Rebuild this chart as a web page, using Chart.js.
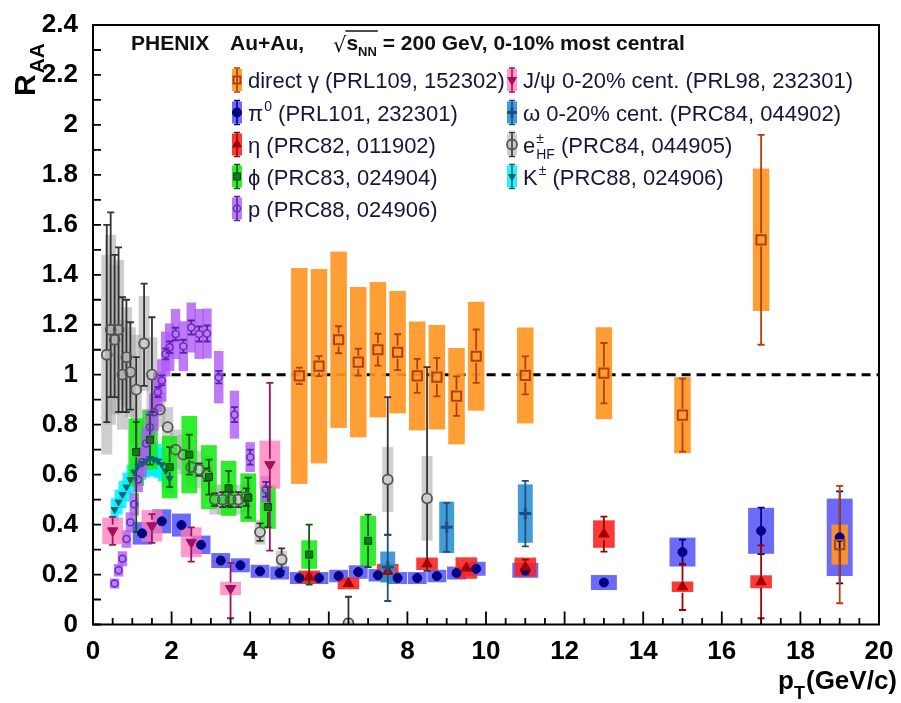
<!DOCTYPE html>
<html>
<head>
<meta charset="utf-8">
<script src="https://cdn.jsdelivr.net/npm/chart.js@4.4.1/dist/chart.umd.min.js"></script>
<style>
  html, body { margin: 0; padding: 0; background: #fff; }
  canvas { display: block; }
</style>
</head>
<body>
<canvas id="raa" width="901" height="703"></canvas>
<script>
// ---- data (R_AA vs pT, Au+Au 0-10%) ----
// stat entries: number = symmetric, [down, up] = asymmetric
const gammaX = [5.25, 5.75, 6.25, 6.75, 7.25, 7.75, 8.25, 8.75, 9.25, 9.75, 11, 13, 15, 17, 19];
const gammaY = [0.995, 1.034, 1.14, 1.05, 1.10, 1.09, 0.995, 0.99, 0.914, 1.074, 0.997, 1.006, 0.838, 1.54, 0.32];
const gammaStat = [0.033, 0.04, 0.054, 0.054, 0.064, 0.072, 0.068, 0.077, 0.079, 0.107, 0.076, 0.121, 0.146, 0.42, 0.235];
const gammaSys = [0.432, 0.389, 0.353, 0.301, 0.271, 0.245, 0.218, 0.209, 0.193, 0.218, 0.192, 0.184, 0.153, 0.285, 0.08];

const pi0X = [1.25, 1.75, 2.25, 2.75, 3.25, 3.75, 4.25, 4.75, 5.25, 5.75, 6.25, 6.75, 7.25, 7.75, 8.25, 8.75, 9.25, 9.75, 11, 13, 15, 17, 19];
const pi0Y = [0.365, 0.413, 0.398, 0.319, 0.256, 0.237, 0.213, 0.206, 0.186, 0.186, 0.194, 0.21, 0.197, 0.186, 0.186, 0.194, 0.206, 0.223, 0.217, 0.168, 0.29, 0.375, 0.349];
const pi0Stat = [0.005, 0.005, 0.005, 0.005, 0.005, 0.005, 0.005, 0.006, 0.006, 0.006, 0.007, 0.007, 0.008, 0.008, 0.009, 0.01, 0.012, 0.013, 0.02, 0.02, 0.05, 0.093, 0.184];
const pi0Sys = [0.045, 0.048, 0.046, 0.037, 0.03, 0.028, 0.026, 0.026, 0.024, 0.024, 0.025, 0.027, 0.025, 0.024, 0.024, 0.025, 0.026, 0.028, 0.03, 0.03, 0.058, 0.092, 0.155];

const etaX = [5.5, 6.5, 7.5, 8.5, 9.5, 11, 13, 15, 17];
const etaY = [0.19, 0.164, 0.213, 0.243, 0.226, 0.23, 0.362, 0.151, 0.171];
const etaStat = [0.02, 0.015, 0.02, 0.02, 0.028, 0.03, 0.07, 0.093, 0.146];
const etaSys = [0.026, 0.023, 0.03, 0.025, 0.043, 0.038, 0.055, 0.021, 0.026];

const phiX = [1.1, 1.45, 1.95, 2.45, 2.95, 3.45, 3.95, 4.45, 5.5, 7.0];
const phiY = [0.69, 0.74, 0.63, 0.68, 0.59, 0.545, 0.508, 0.47, 0.28, 0.335];
const phiStat = [[0.32, 0.12], 0.1, 0.08, 0.08, 0.07, 0.07, 0.08, 0.08, 0.12, 0.105];
const phiSys = [0.135, 0.12, 0.125, 0.155, 0.128, 0.11, 0.097, 0.087, 0.057, 0.1];

const pX = [0.55, 0.65, 0.75, 0.85, 0.95, 1.05, 1.15, 1.25, 1.35, 1.45, 1.55, 1.65, 1.75, 1.85, 1.95, 2.1, 2.3, 2.5, 2.7, 2.9, 3.2, 3.6, 4.0, 4.4];
const pY = [0.164, 0.217, 0.263, 0.342, 0.409, 0.481, 0.58, 0.65, 0.725, 0.79, 0.85, 0.93, 0.977, 1.083, 1.11, 1.163, 1.114, 1.189, 1.163, 1.165, 0.99, 0.84, 0.67, 0.541];
const pStat = [0.01, 0.01, 0.01, 0.012, 0.012, 0.013, 0.014, 0.015, 0.016, 0.017, 0.018, 0.02, 0.02, 0.022, 0.023, 0.025, 0.026, 0.028, 0.03, 0.032, 0.025, 0.03, 0.03, 0.03];
const pSys = [0.02, 0.025, 0.03, 0.035, 0.04, 0.045, 0.05, 0.06, 0.065, 0.07, 0.075, 0.08, 0.085, 0.09, 0.095, 0.1, 0.1, 0.1, 0.1, 0.1, 0.105, 0.096, 0.06, 0.053];

const jpsiX = [0.5, 1.5, 2.5, 3.5, 4.5];
const jpsiY = [0.375, 0.395, 0.329, 0.144, 0.64];
const jpsiStat = [0.056, [0.068, 0.047], [0.077, 0.06], [0.119, 0.103], [0.344, 0.327]];
const jpsiSys = [0.053, 0.063, 0.06, 0.027, 0.096];

const omegaX = [7.5, 9.0, 11.0];
const omegaY = [0.23, 0.389, 0.444];
const omegaStat = [[0.136, 0.128], 0.098, 0.131];
const omegaSys = [0.062, 0.103, 0.117];

const ehfX = [0.35, 0.45, 0.55, 0.65, 0.75, 0.85, 0.95, 1.1, 1.3, 1.5, 1.7, 1.9, 2.1, 2.3, 2.5, 2.7, 2.9, 3.1, 3.3, 3.5, 3.7, 3.9, 4.25, 4.8, 6.5, 7.5, 8.5];
const ehfY = [1.08, 1.18, 1.14, 1.18, 1.0, 1.07, 1.01, 0.94, 1.125, 1.0, 0.86, 0.79, 0.70, 0.68, 0.63, 0.62, 0.6, 0.5, 0.5, 0.5, 0.5, 0.51, 0.37, 0.26, 0.005, 0.58, 0.505];
const ehfStat = [[0.27, 0.52], [0.27, 0.47], [0.23, 0.34], 0.33, [0.15, 0.31], [0.22, 0.23], [0.15, 0.2], [0.24, 0.13], [0.17, 0.24], [0.15, 0.23],
                 0.02, 0.02, 0.02, 0.02, 0.02, 0.025, 0.025, 0.025, 0.03, 0.03, 0.03, 0.035, 0.035, 0.045, [0, 0.106], [0.22, 0.33], [0.29, 0.525]];
const ehfSys = [0.4, 0.38, 0.3, 0.28, 0.22, 0.2, 0.18, 0.22, 0.19, 0.15, 0.07, 0.08, 0.08, 0.08, 0.075, 0.075, 0.075, 0.06, 0.06, 0.06, 0.06, 0.06, 0.05, 0.035, 0.01, 0.13, 0.17];

const kX = [0.55, 0.65, 0.75, 0.85, 0.95, 1.05, 1.15, 1.25, 1.35, 1.45, 1.55, 1.65, 1.75, 1.85, 1.95];
const kY = [0.46, 0.49, 0.52, 0.55, 0.58, 0.61, 0.635, 0.645, 0.655, 0.665, 0.66, 0.655, 0.64, 0.615, 0.585];
const kStat = [0.005, 0.005, 0.005, 0.005, 0.005, 0.005, 0.005, 0.005, 0.005, 0.005, 0.005, 0.005, 0.005, 0.005, 0.005];
const kSys = [0.045, 0.05, 0.055, 0.058, 0.06, 0.062, 0.065, 0.066, 0.067, 0.068, 0.068, 0.068, 0.067, 0.065, 0.062];

const xTickLabels = [0, 2, 4, 6, 8, 10, 12, 14, 16, 18, 20];
const yTickLabels = [0, 0.2, 0.4, 0.6, 0.8, 1, 1.2, 1.4, 1.6, 1.8, 2, 2.2, 2.4];

const FONT = "'Liberation Sans', Arial, Helvetica, sans-serif";

// styling per species
const series = {
  gamma: { x: gammaX, y: gammaY, stat: gammaStat, sys: gammaSys, boxW: 0.42, box: 'rgba(255,150,35,0.92)', line: '#b3400b',
           pt: { style: 'rect', r: 6.5, fill: 'rgba(0,0,0,0)', stroke: '#b3400b', bw: 2 } },
  pi0:   { x: pi0X, y: pi0Y, stat: pi0Stat, sys: pi0Sys, boxW: 0.48, boxWHigh: 0.66, box: 'rgba(75,75,245,0.82)', line: '#00008c',
           pt: { style: 'circle', r: 4.5, fill: '#000080', stroke: '#000080', bw: 1 } },
  eta:   { x: etaX, y: etaY, stat: etaStat, sys: etaSys, boxW: 0.55, box: 'rgba(250,35,35,0.9)', line: '#a30000',
           pt: { style: 'triangle', r: 6, fill: '#a30000', stroke: '#a30000', bw: 1 } },
  phi:   { x: phiX, y: phiY, stat: phiStat, sys: phiSys, boxW: 0.4, box: 'rgba(25,235,25,0.9)', line: '#0a5a0a',
           pt: { style: 'rect', r: 5, fill: '#127a12', stroke: '#064006', bw: 1 } },
  p:     { x: pX, y: pY, stat: pStat, sys: pSys, boxW: 0.24, box: 'rgba(175,90,245,0.8)', line: '#5a22a8',
           pt: { style: 'circle', r: 3.5, fill: 'rgba(0,0,0,0)', stroke: '#6a2bc0', bw: 1.5 } },
  jpsi:  { x: jpsiX, y: jpsiY, stat: jpsiStat, sys: jpsiSys, boxW: 0.53, box: 'rgba(255,120,185,0.75)', line: '#a01060',
           pt: { style: 'triangle', rot: 180, r: 6, fill: '#a01060', stroke: '#a01060', bw: 1 } },
  omega: { x: omegaX, y: omegaY, stat: omegaStat, sys: omegaSys, boxW: 0.38, box: 'rgba(45,145,210,0.9)', line: '#1d4f86',
           pt: { style: 'cross', r: 6, fill: '#1d4f86', stroke: '#1d4f86', bw: 3 } },
  ehf:   { x: ehfX, y: ehfY, stat: ehfStat, sys: ehfSys, boxW: 0.28, box: 'rgba(165,165,165,0.55)', line: '#333333',
           pt: { style: 'circle', r: 5, fill: 'rgba(0,0,0,0)', stroke: '#555555', bw: 1.8 } },
  k:     { x: kX, y: kY, stat: kStat, sys: kSys, boxW: 0.2, box: 'rgba(0,240,255,0.85)', line: '#0a6470',
           pt: { style: 'triangle', rot: 180, r: 4, fill: '#0a6470', stroke: '#0a6470', bw: 1 } },
};
const boxOrder = ['ehf', 'k', 'phi', 'p', 'pi0', 'eta', 'jpsi', 'omega', 'gamma'];

const legendLeft = [
  ['gamma', [{ t: 'direct γ (PRL109, 152302)' }]],
  ['pi0', [{ t: 'π' }, { t: '0', sup: true }, { t: ' (PRL101, 232301)' }]],
  ['eta', [{ t: 'η (PRC82, 011902)' }]],
  ['phi', [{ t: 'ϕ (PRC83, 024904)' }]],
  ['p', [{ t: 'p (PRC88, 024906)' }]],
];
const legendRight = [
  ['jpsi', [{ t: 'J/ψ 0-20% cent. (PRL98, 232301)' }]],
  ['omega', [{ t: 'ω 0-20% cent. (PRC84, 044902)' }]],
  ['ehf', [{ t: 'e' }, { t: '±', sup: true, stack: 'HF' }, { t: ' (PRC84, 044905)' }]],
  ['k', [{ t: 'K' }, { t: '±', sup: true }, { t: ' (PRC88, 024906)' }]],
];

function errPair(e) { return Array.isArray(e) ? e : [e, e]; }

function drawMarker(ctx, pt, x, y) {
  ctx.save();
  ctx.fillStyle = pt.fill;
  ctx.strokeStyle = pt.stroke;
  ctx.lineWidth = pt.bw;
  Chart.helpers.drawPoint(ctx, { pointStyle: pt.style, rotation: pt.rot || 0, radius: pt.r, borderWidth: pt.bw }, x, y);
  ctx.restore();
}

function drawRich(ctx, parts, x, y, size, weight) {
  let cx = x;
  parts.forEach(part => {
    if (part.sup) {
      ctx.font = `${weight} ${Math.round(size * 0.65)}px ${FONT}`;
      ctx.fillText(part.t, cx + 1, y - size * 0.42);
      let w = ctx.measureText(part.t).width;
      if (part.stack) {
        ctx.fillText(part.stack, cx + 1, y + size * 0.3);
        w = Math.max(w, ctx.measureText(part.stack).width);
      }
      cx += w + 1;
    } else {
      ctx.font = `${weight} ${size}px ${FONT}`;
      ctx.fillText(part.t, cx, y);
      cx += ctx.measureText(part.t).width;
    }
  });
  return cx;
}

function drawLegendSample(ctx, s, x, y) {
  ctx.fillStyle = s.box;
  ctx.fillRect(x - 5, y - 11, 10, 22);
  ctx.strokeStyle = s.line;
  ctx.lineWidth = 1.6;
  ctx.beginPath();
  ctx.moveTo(x, y - 12); ctx.lineTo(x, y + 12);
  ctx.moveTo(x - 3, y - 12); ctx.lineTo(x + 3, y - 12);
  ctx.moveTo(x - 3, y + 12); ctx.lineTo(x + 3, y + 12);
  ctx.stroke();
  drawMarker(ctx, Object.assign({}, s.pt, { r: Math.min(s.pt.r, 5) }), x, y);
}

const raaPlugin = {
  id: 'raaDecor',
  beforeDatasetsDraw(chart) {
    const { ctx, chartArea: a } = chart;
    const xs = chart.scales.x, ys = chart.scales.y;
    ctx.save();
    ctx.beginPath();
    ctx.rect(a.left, a.top, a.right - a.left, a.bottom - a.top);
    ctx.clip();

    // unity reference
    ctx.strokeStyle = '#000';
    ctx.lineWidth = 3;
    ctx.setLineDash([9, 6]);
    ctx.beginPath();
    ctx.moveTo(xs.getPixelForValue(2), ys.getPixelForValue(1));
    ctx.lineTo(xs.getPixelForValue(20), ys.getPixelForValue(1));
    ctx.stroke();
    ctx.setLineDash([]);

    // systematic boxes
    boxOrder.forEach(key => {
      const s = series[key];
      ctx.fillStyle = s.box;
      s.x.forEach((xv, i) => {
        const w = (s.boxWHigh && xv > 10) ? s.boxWHigh : s.boxW;
        const x0 = xs.getPixelForValue(xv - w / 2), x1 = xs.getPixelForValue(xv + w / 2);
        const y0 = ys.getPixelForValue(s.y[i] + s.sys[i]), y1 = ys.getPixelForValue(s.y[i] - s.sys[i]);
        ctx.fillRect(x0, y0, x1 - x0, y1 - y0);
      });
    });

    // statistical error bars
    boxOrder.forEach(key => {
      const s = series[key];
      ctx.strokeStyle = s.line;
      ctx.lineWidth = 1.8;
      s.x.forEach((xv, i) => {
        const [dn, up] = errPair(s.stat[i]);
        const px = xs.getPixelForValue(xv);
        const py = ys.getPixelForValue(s.y[i]);
        const top = ys.getPixelForValue(s.y[i] + up), bot = ys.getPixelForValue(s.y[i] - dn);
        ctx.beginPath();
        if (py - top > s.pt.r + 1) {
          ctx.moveTo(px, py - s.pt.r); ctx.lineTo(px, top);
          ctx.moveTo(px - 3.5, top); ctx.lineTo(px + 3.5, top);
        }
        if (bot - py > s.pt.r + 1) {
          ctx.moveTo(px, py + s.pt.r); ctx.lineTo(px, bot);
          ctx.moveTo(px - 3.5, bot); ctx.lineTo(px + 3.5, bot);
        }
        ctx.stroke();
      });
    });
    ctx.restore();
  },
  afterDraw(chart) {
    const { ctx, chartArea: a } = chart;
    const xs = chart.scales.x, ys = chart.scales.y;
    ctx.save();

    // ROOT style inner ticks
    ctx.strokeStyle = '#000';
    ctx.lineWidth = 1.8;
    ctx.beginPath();
    for (let v = 0; v <= 20.001; v += 0.5) {
      const px = xs.getPixelForValue(v);
      const len = Math.abs(v / 2 - Math.round(v / 2)) < 1e-6 ? 13 : 6.5;
      ctx.moveTo(px, a.bottom); ctx.lineTo(px, a.bottom - len);
    }
    for (let v = 0; v <= 2.401; v += 0.1) {
      const py = ys.getPixelForValue(v);
      ctx.moveTo(a.left, py); ctx.lineTo(a.left + 8, py);
    }
    ctx.stroke();

    // frame
    ctx.lineWidth = 2;
    ctx.strokeRect(a.left, a.top, a.right - a.left, a.bottom - a.top);

    // axis titles
    ctx.fillStyle = '#000';
    ctx.textBaseline = 'alphabetic';
    ctx.save();
    ctx.translate(35, 96);
    ctx.rotate(-Math.PI / 2);
    ctx.font = `bold 30px ${FONT}`;
    ctx.fillText('R', 0, 0);
    const rw = ctx.measureText('R').width;
    ctx.font = `bold 21px ${FONT}`;
    ctx.fillText('AA', rw + 1, 9);
    ctx.restore();

    ctx.font = `bold 26px ${FONT}`;
    const pw = ctx.measureText('p').width;
    const gw = ctx.measureText('(GeV/c)').width;
    ctx.font = `bold 18px ${FONT}`;
    const tw = ctx.measureText('T').width;
    let tx = 897 - pw - tw - gw - 1;
    ctx.font = `bold 26px ${FONT}`;
    ctx.fillText('p', tx, 689);
    ctx.font = `bold 18px ${FONT}`;
    ctx.fillText('T', tx + pw, 699);
    ctx.font = `bold 26px ${FONT}`;
    ctx.fillText('(GeV/c)', tx + pw + tw + 1, 689);

    // header line
    ctx.fillStyle = '#111';
    ctx.font = `bold 21px ${FONT}`;
    ctx.fillText('PHENIX', 131, 50);
    ctx.fillText('Au+Au,', 230, 50);
    ctx.font = `21px 'DejaVu Sans', ${FONT}`;
    ctx.fillText('√', 333, 52);
    const rad = ctx.measureText('√').width;
    let hx = 333 + rad;
    ctx.font = `bold 21px ${FONT}`;
    ctx.fillText('s', hx, 50);
    const sw = ctx.measureText('s').width;
    ctx.font = `bold 13px ${FONT}`;
    ctx.fillText('NN', hx + sw, 56);
    const nw = ctx.measureText('NN').width;
    ctx.lineWidth = 1.4;
    ctx.strokeStyle = '#111';
    ctx.beginPath();
    ctx.moveTo(hx - 1, 31); ctx.lineTo(hx + sw + nw + 1, 31);
    ctx.stroke();
    ctx.font = `bold 21px ${FONT}`;
    ctx.fillText(' = 200 GeV, 0-10% most central', hx + sw + nw, 50);

    // legend
    const rows = [80, 112.5, 144.5, 176.5, 208.5];
    legendLeft.forEach(([key, parts], i) => {
      drawLegendSample(ctx, series[key], 237, rows[i]);
      ctx.fillStyle = '#16163a';
      drawRich(ctx, parts, 248, rows[i] + 8, 22, 'normal');
    });
    legendRight.forEach(([key, parts], i) => {
      drawLegendSample(ctx, series[key], 512, rows[i]);
      ctx.fillStyle = '#16163a';
      drawRich(ctx, parts, 523, rows[i] + 8, 22, 'normal');
    });
    ctx.restore();
  }
};

// marker datasets (first listed is drawn on top)
const markerOrder = ['gamma', 'omega', 'jpsi', 'eta', 'pi0', 'p', 'phi', 'k', 'ehf'];
const datasets = markerOrder.map(key => {
  const s = series[key];
  return {
    label: key,
    data: s.x.map((xv, i) => ({ x: xv, y: s.y[i] })),
    pointStyle: s.pt.style,
    pointRotation: s.pt.rot || 0,
    pointRadius: s.pt.r,
    pointBackgroundColor: s.pt.fill,
    pointBorderColor: s.pt.stroke,
    pointBorderWidth: s.pt.bw,
    showLine: false,
  };
});

const tickFont = { family: FONT, size: 26, weight: 'bold' };

new Chart(document.getElementById('raa'), {
  type: 'scatter',
  data: { datasets },
  options: {
    responsive: false,
    animation: false,
    events: [],
    layout: { padding: { left: 0, right: 22, top: 25, bottom: 0 } },
    plugins: { legend: { display: false }, tooltip: { enabled: false } },
    scales: {
      x: {
        type: 'linear', min: 0, max: 20, offset: false,
        afterBuildTicks: s => { s.ticks = xTickLabels.map(v => ({ value: v })); },
        afterFit: s => { s.height = 78.5; },
        grid: { display: false }, border: { display: false },
        ticks: { font: tickFont, color: '#000', padding: 4, maxRotation: 0, autoSkip: false,
                 callback: v => String(v) }
      },
      y: {
        type: 'linear', min: 0, max: 2.4,
        afterBuildTicks: s => { s.ticks = yTickLabels.map(v => ({ value: v })); },
        afterFit: s => { s.width = 93; },
        grid: { display: false }, border: { display: false },
        ticks: { font: tickFont, color: '#000', padding: 7, autoSkip: false,
                 callback: v => String(Math.round(v * 10) / 10) }
      }
    }
  },
  plugins: [raaPlugin]
});
</script>
</body>
</html>
